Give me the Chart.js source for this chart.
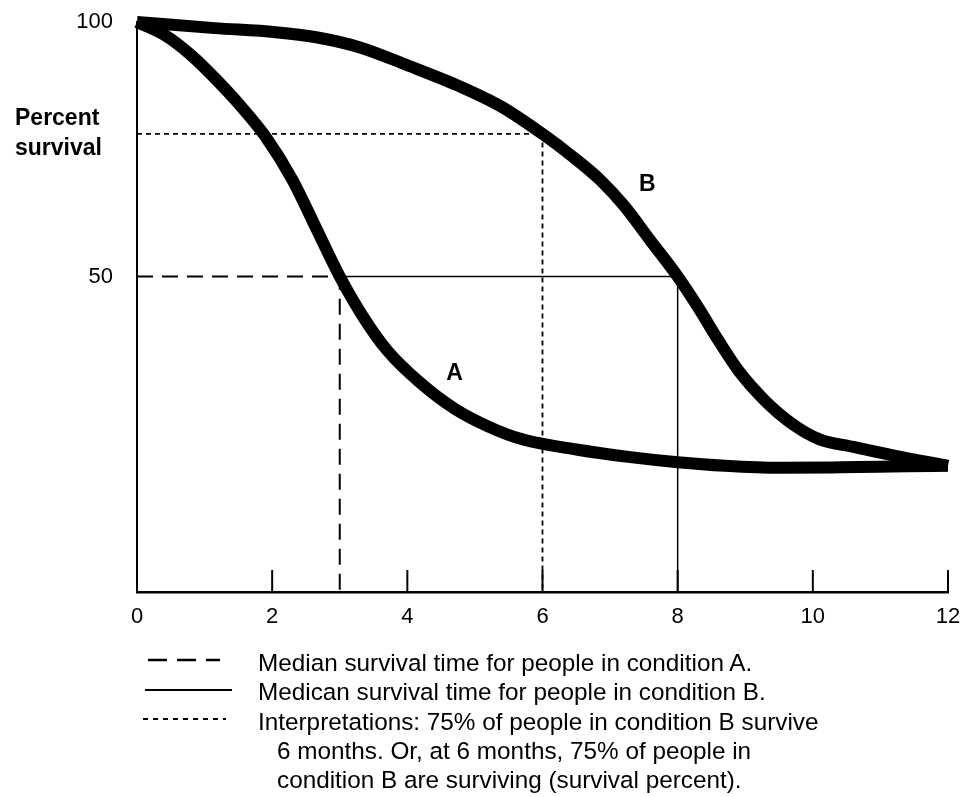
<!DOCTYPE html>
<html>
<head>
<meta charset="utf-8">
<script src="https://cdn.jsdelivr.net/npm/chart.js@4.4.0/dist/chart.umd.min.js"></script>
<style>
html,body{margin:0;padding:0;background:#fff;}
#wrap{position:relative;width:972px;height:797px;overflow:hidden;font-family:"Liberation Sans",Arial,Helvetica,sans-serif;color:#000;background:#fff;}
#c{position:absolute;left:0;top:0;}
.ylab{position:absolute;left:15px;top:102px;font-weight:bold;font-size:23px;line-height:30px;}
.leg{position:absolute;left:258px;top:648px;font-size:24.3px;line-height:29.3px;white-space:nowrap;}
.leg .ind{padding-left:19px;}
#legsvg{position:absolute;left:0;top:0;}
</style>
</head>
<body>
<div id="wrap">
  <canvas id="c" width="972" height="797"></canvas>
  <div class="ylab">Percent<br>survival</div>
  <svg id="legsvg" width="972" height="797">
    <line x1="148" y1="660" x2="220" y2="660" stroke="#000" stroke-width="2.5" stroke-dasharray="19,10"/>
    <line x1="145" y1="690" x2="232" y2="690" stroke="#000" stroke-width="2"/>
    <line x1="143" y1="719" x2="226" y2="719" stroke="#000" stroke-width="2" stroke-dasharray="5,5"/>
  </svg>
  <div class="leg">
    <div>Median survival time for people in condition A.</div>
    <div>Medican survival time for people in condition B.</div>
    <div>Interpretations: 75% of people in condition B survive</div>
    <div class="ind">6 months. Or, at 6 months, 75% of people in</div>
    <div class="ind">condition B are surviving (survival percent).</div>
  </div>
</div>
<script>
// ---- data (months, percent survival) ----
const monthsA   = [0, 0.4, 0.8, 1.15, 1.5, 1.9, 2.3, 2.65, 3, 3.35, 3.7, 4.2, 4.7, 5.2, 5.7, 6.5, 7.3, 8, 8.7, 9.5, 10.4, 11.4, 12];
const survivalA = [100, 97.5, 93.5, 89, 84, 77.5, 69, 59.5, 50, 42, 35.5, 29, 24, 20.5, 18, 16, 14.5, 13.5, 12.8, 12.4, 12.5, 12.7, 12.8];
const monthsB   = [0, 1.15, 2.05, 2.65, 3.3, 4, 4.75, 5.4, 6, 6.45, 6.85, 7.2, 7.6, 8, 8.3, 8.6, 8.9, 9.3, 9.7, 10.1, 10.6, 11.2, 12];
const survivalB = [100, 98.8, 98, 97, 95, 91.5, 87.5, 83.3, 78, 73.5, 69, 64, 57, 50, 44, 37.5, 31.5, 25.5, 21, 18, 16.5, 14.8, 12.8];
const xTicks = [0, 2, 4, 6, 8, 10, 12];
const yTicks = [50, 100];
const medianA = 3;          // months
const medianB = 8;          // months
const medianPct = 50;
const interpMonth = 6;
const interpPct = 78;
const yMin = -12, yMax = 100;
const curveLabels = [{text:'A', x:4.7, y:31}, {text:'B', x:7.55, y:68}];

const toPts = (xs, ys) => xs.map((x, i) => ({x: x, y: ys[i]}));
const FONT = '"Liberation Sans", Arial, Helvetica, sans-serif';

const innerTicks = {
  id: 'innerTicks',
  afterDatasetsDraw(chart) {
    const ctx = chart.ctx, xs = chart.scales.x, area = chart.chartArea;
    ctx.save();
    ctx.strokeStyle = '#000';
    ctx.lineWidth = 2;
    xTicks.forEach(v => {
      if (v === 0) return;
      const px = xs.getPixelForValue(v);
      ctx.beginPath();
      ctx.moveTo(px, area.bottom);
      ctx.lineTo(px, area.bottom - 22);
      ctx.stroke();
    });
    ctx.fillStyle = '#000';
    ctx.font = 'bold 23px ' + FONT;
    ctx.textAlign = 'center';
    ctx.textBaseline = 'middle';
    curveLabels.forEach(l => {
      ctx.fillText(l.text, xs.getPixelForValue(l.x), chart.scales.y.getPixelForValue(l.y));
    });
    ctx.restore();
  }
};

new Chart(document.getElementById('c'), {
  type: 'line',
  data: {
    datasets: [
      { label: 'A', data: toPts(monthsA, survivalA), borderColor: '#000', borderWidth: 12,
        pointRadius: 0, cubicInterpolationMode: 'monotone', clip: false, order: 0, borderCapStyle: 'butt' },
      { label: 'B', data: toPts(monthsB, survivalB), borderColor: '#000', borderWidth: 12,
        pointRadius: 0, cubicInterpolationMode: 'monotone', clip: false, order: 0, borderCapStyle: 'butt' },
      { label: 'Median A', data: [{x:0,y:medianPct},{x:medianA,y:medianPct},{x:medianA,y:yMin}],
        borderColor: '#000', borderWidth: 2, borderDash: [16, 9], pointRadius: 0, tension: 0, order: 1 },
      { label: 'Median B', data: [{x:medianA,y:medianPct},{x:medianB,y:medianPct},{x:medianB,y:yMin}],
        borderColor: '#000', borderWidth: 1.5, pointRadius: 0, tension: 0, order: 1 },
      { label: 'Interpretation', data: [{x:0,y:interpPct},{x:interpMonth,y:interpPct},{x:interpMonth,y:yMin}],
        borderColor: '#000', borderWidth: 1.8, borderDash: [5, 4], pointRadius: 0, tension: 0, order: 1 }
    ]
  },
  options: {
    responsive: false,
    animation: false,
    layout: { padding: { left: 0, top: 22, right: 24, bottom: 155 } },
    plugins: { legend: { display: false }, tooltip: { enabled: false } },
    scales: {
      x: {
        type: 'linear', min: 0, max: 12,
        afterBuildTicks: s => { s.ticks = xTicks.map(v => ({value: v})); },
        afterFit: s => { s.height = 50; s.paddingLeft = 0; s.paddingRight = 0; },
        grid: { display: false, drawTicks: false },
        border: { display: true, color: '#000', width: 2.5 },
        ticks: { color: '#000', font: { family: FONT, size: 22 }, padding: 12, maxRotation: 0, autoSkip: false }
      },
      y: {
        type: 'linear', min: yMin, max: yMax,
        afterBuildTicks: s => { s.ticks = yTicks.map(v => ({value: v})); },
        afterFit: s => { s.width = 137; s.paddingTop = 0; s.paddingBottom = 0; },
        grid: { display: false, drawTicks: false },
        border: { display: true, color: '#000', width: 2 },
        ticks: { color: '#000', font: { family: FONT, size: 22 }, padding: 24 }
      }
    }
  },
  plugins: [innerTicks]
});
</script>
</body>
</html>
